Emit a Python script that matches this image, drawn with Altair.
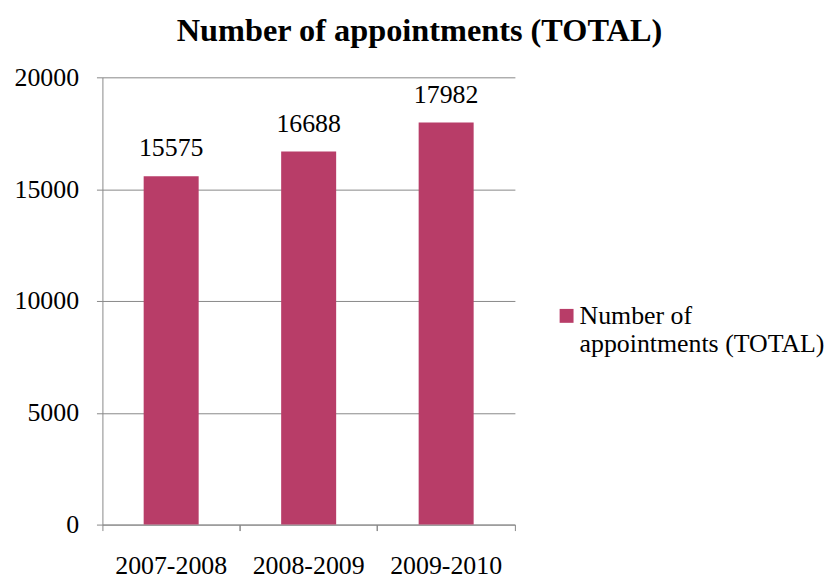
import altair as alt
import pandas as pd

years = ["2007-2008", "2008-2009", "2009-2010"]
values = [15575, 16688, 17982]
series_name = "Number of appointments (TOTAL)"
y_ticks = [0, 5000, 10000, 15000, 20000]

df = pd.DataFrame({"year": years, "value": values, "series": [series_name] * len(years)})

FONT = "'Times New Roman', 'Liberation Serif', Tinos, serif"
GRAY = "#888888"
BAR = "#B83D68"
W, H = 415, 450
P_IN, P_OUT = 0.6, 0.3
step = W / (len(years) - P_IN + 2 * P_OUT)
bw = step * (1 - P_IN)
tick_band = -(P_IN * step / 2) / bw          # boundary between bands

x_scale = alt.Scale(paddingInner=P_IN, paddingOuter=P_OUT)

x_enc = alt.X(
    "year:N", sort=years, title=None, scale=x_scale,
    axis=alt.Axis(labelAngle=0, bandPosition=tick_band,
                  ticks=True, tickSize=6, tickColor=GRAY,
                  domainColor=GRAY, labelFont=FONT, labelFontSize=26, labelColor="black",
                  labelPadding=22, grid=False, orient="bottom"),
)
y_enc = alt.Y(
    "value:Q", title=None,
    scale=alt.Scale(domain=[0, 20000]),
    axis=alt.Axis(values=y_ticks, tickSize=6, tickColor=GRAY, domainColor=GRAY, gridColor=GRAY,
                  labelFont=FONT, labelFontSize=26, labelColor="black", labelPadding=18,
                  format="d"),
)

bars = alt.Chart(df).mark_bar().encode(
    x=x_enc,
    y=y_enc,
    color=alt.Color(
        "series:N", title=None,
        scale=alt.Scale(domain=[series_name], range=[BAR]),
        legend=alt.Legend(
            orient="none", legendX=454, legendY=227, padding=0,
            symbolType="square", symbolSize=196, symbolStrokeWidth=0,
            labelFont=FONT, labelFontSize=26, labelColor="black", labelBaseline="middle",
            labelLimit=400, labelOffset=0,
            labelExpr="['Number of', 'appointments (TOTAL)']",
        ),
    ),
)

labels = alt.Chart(df).mark_text(
    font=FONT, fontSize=26, color="black", baseline="alphabetic", dy=-20
).encode(
    x=alt.X("year:N", sort=years, scale=x_scale, title=None,
            axis=alt.Axis(bandPosition=1 - tick_band, labels=False, domain=False,
                          ticks=True, tickSize=6, tickColor=GRAY, grid=False, orient="bottom")),
    y="value:Q",
    text=alt.Text("value:Q", format="d"),
)

chart = alt.layer(bars, labels).resolve_axis(x="independent").properties(
    width=W, height=H,
    padding={"left": 6, "top": 5, "right": 0, "bottom": 0},
    title=alt.TitleParams(series_name, font=FONT, fontSize=32.5, fontWeight="bold", color="black",
                          anchor="middle", frame="bounds", offset=17),
).configure_view(stroke=None).configure_axis(gridColor=GRAY)

chart.save("out.html", embed_options={"renderer": "svg", "actions": False})
